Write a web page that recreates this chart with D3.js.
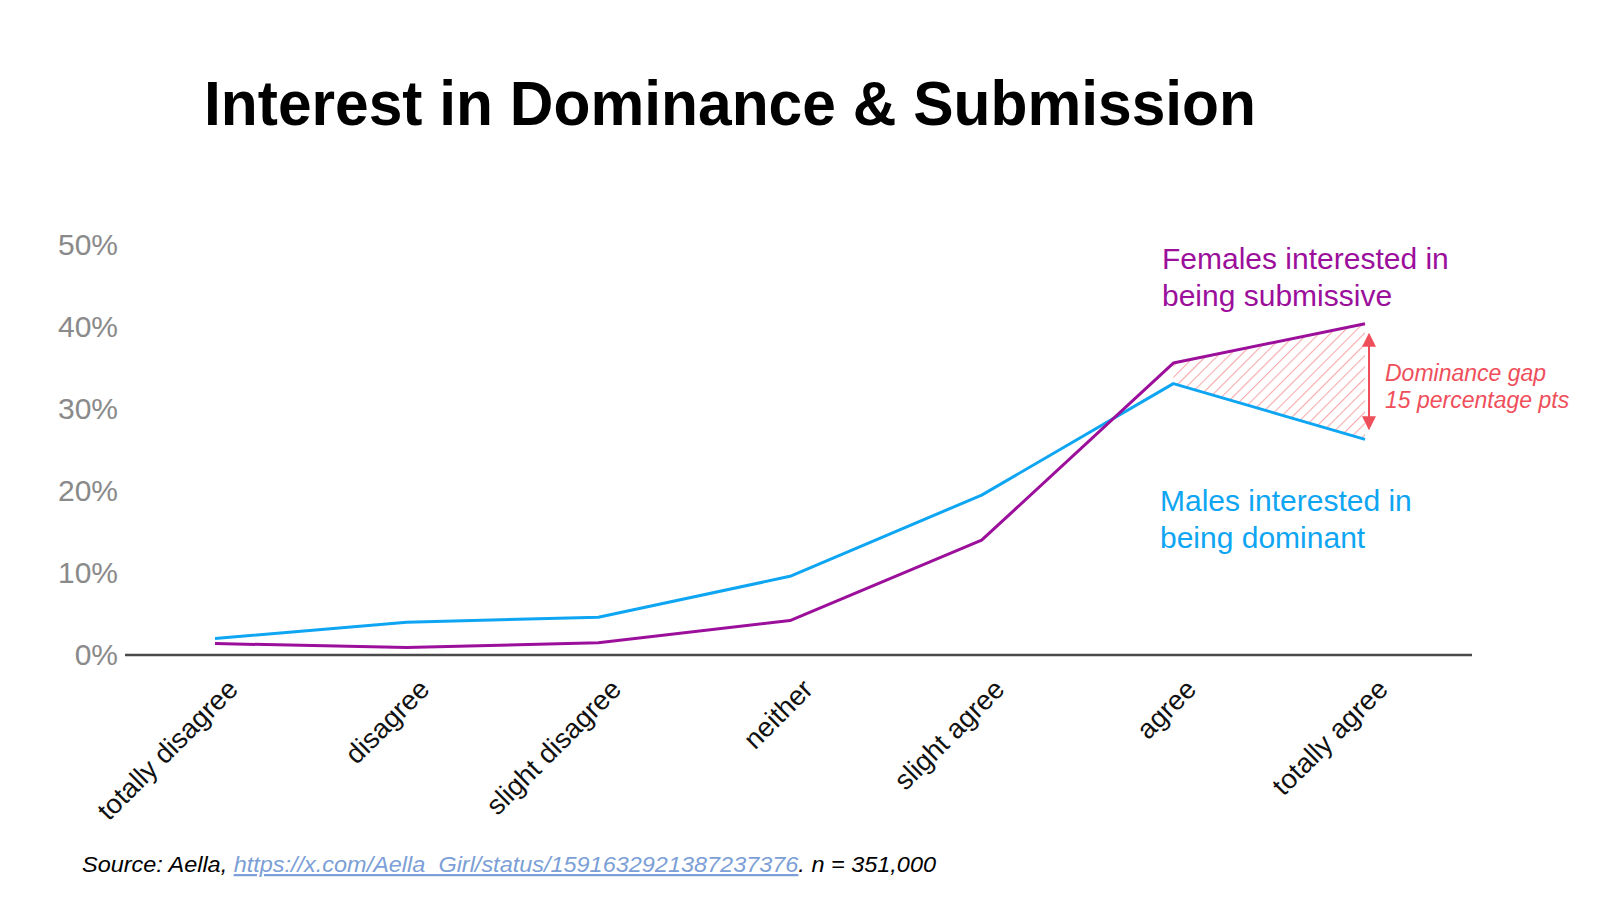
<!DOCTYPE html>
<html>
<head>
<meta charset="utf-8">
<script src="https://cdn.jsdelivr.net/npm/d3@7"></script>
<style>
  html, body { margin: 0; padding: 0; background: #fff; }
  svg { display: block; }
</style>
</head>
<body>
<svg id="chart" width="1600" height="920"></svg>
<script>
const categories = ["totally disagree", "disagree", "slight disagree", "neither", "slight agree", "agree", "totally agree"];
const malesDominant = [2.0, 4.0, 4.6, 9.6, 19.5, 33.1, 26.3];
const femalesSubmissive = [1.4, 0.9, 1.5, 4.2, 14.0, 35.6, 40.4];
const yTicks = [0, 10, 20, 30, 40, 50];
const gapStartIndex = 5;

const svg = d3.select("#chart");
const purple = "#9b0f9b";
const blue = "#0ea5f2";
const red = "#ef4f5b";

const x = d3.scalePoint().domain(categories).range([215, 1365]);
const y = d3.scaleLinear().domain([0, 50]).range([655, 245]);

// Title
svg.append("text")
  .attr("x", 204).attr("y", 125)
  .attr("font-family", "Liberation Sans, Arial, sans-serif")
  .attr("font-weight", "bold")
  .attr("font-size", 63)
  .attr("textLength", 1052)
  .attr("lengthAdjust", "spacingAndGlyphs")
  .attr("fill", "#000")
  .text("Interest in Dominance & Submission");

// Hatch pattern
const defs = svg.append("defs");
const pat = defs.append("pattern")
  .attr("id", "hatch")
  .attr("patternUnits", "userSpaceOnUse")
  .attr("width", 8).attr("height", 8)
  .attr("patternTransform", "rotate(45)");
pat.append("line")
  .attr("x1", 0).attr("y1", 0).attr("x2", 0).attr("y2", 8)
  .attr("stroke", "#f6a9ad").attr("stroke-width", 2.2);

// Y axis labels
const yAxis = d3.axisLeft(y).tickValues(yTicks).tickFormat(d => d + "%").tickSize(0).tickPadding(0);
const yg = svg.append("g").attr("transform", "translate(118,0)").call(yAxis);
yg.select(".domain").remove();
yg.selectAll("text")
  .attr("font-family", "Liberation Sans, Arial, sans-serif")
  .attr("font-size", 30)
  .attr("fill", "#8a8a8a")
  .attr("dy", "0.33em");

// X axis line
svg.append("line")
  .attr("x1", 125).attr("x2", 1472)
  .attr("y1", y(0)).attr("y2", y(0))
  .attr("stroke", "#4a4a4a").attr("stroke-width", 2.5);

// X axis labels
const xAxis = d3.axisBottom(x).tickSize(0).tickPadding(0);
const xg = svg.append("g").attr("transform", `translate(0,${y(0)})`).call(xAxis);
xg.select(".domain").remove();
xg.selectAll(".tick text")
  .attr("font-family", "Liberation Sans, Arial, sans-serif")
  .attr("font-size", 27.5)
  .attr("fill", "#111")
  .attr("text-anchor", "end")
  .attr("dy", null)
  .attr("y", null)
  .attr("transform", "translate(24,36) rotate(-45)");

// Gap hatched area
const gapData = categories.map((c, i) => ({c, m: malesDominant[i], f: femalesSubmissive[i]})).slice(gapStartIndex);
svg.append("path")
  .datum(gapData)
  .attr("d", d3.area().x(d => x(d.c)).y0(d => y(d.m)).y1(d => y(d.f)))
  .attr("fill", "url(#hatch)");

// Lines
const line = d3.line().x((d, i) => x(categories[i])).y(d => y(d));
svg.append("path").datum(malesDominant)
  .attr("d", line).attr("fill", "none")
  .attr("stroke", blue).attr("stroke-width", 3).attr("stroke-linejoin", "round");
svg.append("path").datum(femalesSubmissive)
  .attr("d", line).attr("fill", "none")
  .attr("stroke", purple).attr("stroke-width", 3).attr("stroke-linejoin", "round");

// Gap arrow
const last = categories.length - 1;
const ax = x(categories[last]) + 4;
const yTop = y(femalesSubmissive[last]) + 10;
const yBot = y(malesDominant[last]) - 10;
defs.append("marker").attr("id", "arr").attr("viewBox", "0 0 10 10")
  .attr("refX", 5).attr("refY", 5).attr("markerWidth", 14).attr("markerHeight", 14)
  .attr("markerUnits", "userSpaceOnUse")
  .attr("orient", "auto-start-reverse")
  .append("path").attr("d", "M0,0 L10,5 L0,10 Z").attr("fill", red);
svg.append("line")
  .attr("x1", ax).attr("x2", ax)
  .attr("y1", yTop + 6).attr("y2", yBot - 6)
  .attr("stroke", red).attr("stroke-width", 2)
  .attr("marker-start", "url(#arr)").attr("marker-end", "url(#arr)");

// Annotations
const font = "Liberation Sans, Arial, sans-serif";
const fem = svg.append("text").attr("font-family", font).attr("font-size", 30).attr("fill", purple);
fem.append("tspan").attr("x", 1162).attr("y", 269).text("Females interested in");
fem.append("tspan").attr("x", 1162).attr("y", 306).text("being submissive");

const mal = svg.append("text").attr("font-family", font).attr("font-size", 30).attr("fill", blue);
mal.append("tspan").attr("x", 1160).attr("y", 511).text("Males interested in");
mal.append("tspan").attr("x", 1160).attr("y", 548).text("being dominant");

const gap = svg.append("text").attr("font-family", font).attr("font-size", 23)
  .attr("font-style", "italic").attr("fill", red);
gap.append("tspan").attr("x", 1385).attr("y", 381).text("Dominance gap");
gap.append("tspan").attr("x", 1385).attr("y", 408).text("15 percentage pts");

// Source
const src = svg.append("text").attr("x", 82).attr("y", 872)
  .attr("font-family", font).attr("font-size", 22.5).attr("font-style", "italic").attr("fill", "#000")
  .attr("textLength", 854).attr("lengthAdjust", "spacingAndGlyphs");
src.append("tspan").text("Source: Aella, ");
src.append("tspan").attr("fill", "#7b9fd6").attr("text-decoration", "underline")
  .text("https://x.com/Aella_Girl/status/1591632921387237376");
src.append("tspan").text(". n = 351,000");
</script>
</body>
</html>
